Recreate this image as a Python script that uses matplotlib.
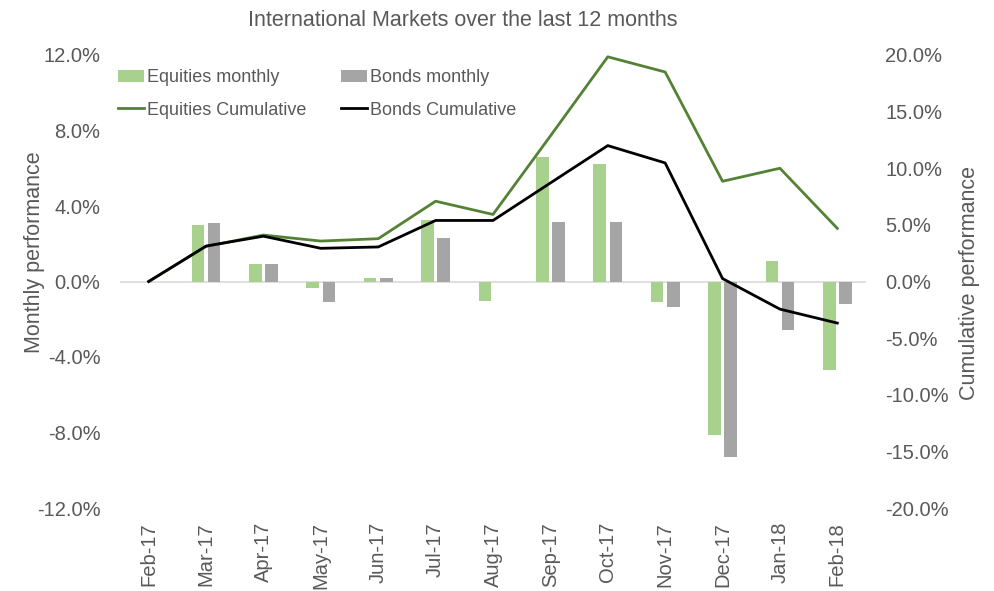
import matplotlib
matplotlib.use('Agg')
import matplotlib.pyplot as plt
import numpy as np
from matplotlib.ticker import FuncFormatter

plt.rcParams['font.family'] = ['Liberation Sans', 'DejaVu Sans']

months = ['Feb-17', 'Mar-17', 'Apr-17', 'May-17', 'Jun-17', 'Jul-17', 'Aug-17',
          'Sep-17', 'Oct-17', 'Nov-17', 'Dec-17', 'Jan-18', 'Feb-18']
# monthly returns, %
eq_monthly = [0.0, 3.0, 0.95, -0.37, 0.19, 3.24, -1.04, 6.6, 6.24, -1.11, -8.12, 1.06, -4.69]
bd_monthly = [0.0, 3.1, 0.93, -1.08, 0.16, 2.33, 0.0, 3.14, 3.17, -1.34, -9.31, -2.58, -1.2]
# cumulative returns, %
eq_cum = [0.0, 3.1, 4.1, 3.57, 3.78, 7.09, 5.92, 12.85, 19.84, 18.5, 8.85, 10.0, 4.69]
bd_cum = [0.0, 3.13, 4.0, 2.93, 3.05, 5.39, 5.39, 8.7, 12.0, 10.47, 0.26, -2.44, -3.67]

txt = '#595959'
x = np.arange(len(months))
w = 0.22
off = 0.141

fig = plt.figure(figsize=(9.95, 5.91), dpi=100)
ax = fig.add_axes([120/995, 1-508/591, 746/995, 453/591])
ax2 = ax.twinx()

b1 = ax.bar(x - off, eq_monthly, w, color='#a9d18e', label='Equities monthly', zorder=2)
b2 = ax.bar(x + off, bd_monthly, w, color='#a5a5a5', label='Bonds monthly', zorder=2)
ax.axhline(0, color='#d9d9d9', lw=1.2, zorder=1)

l1, = ax2.plot(x, eq_cum, color='#548235', lw=2.0, label='Equities Cumulative')
l2, = ax2.plot(x, bd_cum, color='black', lw=2.0, label='Bonds Cumulative')

ax.set_xlim(-0.5, len(months) - 0.5)
ax.set_ylim(-12, 12)
ax.set_yticks(np.arange(-12, 12.1, 4))
ax2.set_ylim(-20, 20)
ax2.set_yticks(np.arange(-20, 20.1, 5))
pct = FuncFormatter(lambda v, p: '%.1f%%' % v)
ax.yaxis.set_major_formatter(pct)
ax2.yaxis.set_major_formatter(pct)

ax.set_xticks(x)
ax.set_xticklabels(months, rotation=90)

for a in (ax, ax2):
    for s in a.spines.values():
        s.set_visible(False)
    a.tick_params(length=0, colors=txt, labelsize=14.5)
ax.tick_params(axis='y', pad=14)
ax2.tick_params(axis='y', pad=14)
ax.tick_params(axis='x', pad=10)

ax.set_ylabel('Monthly performance', color=txt, fontsize=15.5)
ax.yaxis.set_label_coords((45 - 120) / 746, (508 - 252) / 453)
ax2.set_ylabel('Cumulative performance', color=txt, fontsize=15.5)
ax2.yaxis.set_label_coords((959 - 120) / 746, (508 - 283) / 453)

fig.text(463/995, 1-20/591, 'International Markets over the last 12 months',
         ha='center', va='center', color=txt, fontsize=15.5)

fig.legend(handles=[b1, l1, b2, l2], ncol=2, loc='upper left',
           bbox_to_anchor=(102/995, 1-53/591), frameon=False, fontsize=13,
           labelcolor=txt, handlelength=1.45, handletextpad=0.15,
           columnspacing=1.9, labelspacing=0.85)

fig.savefig('out.png', dpi=100)
